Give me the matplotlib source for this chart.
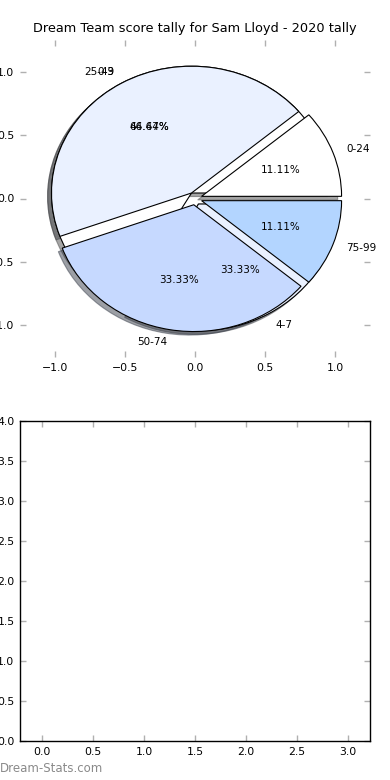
import matplotlib
matplotlib.use('Agg')
import matplotlib.pyplot as plt

title = 'Dream Team score tally for Sam Lloyd - 2020 tally'

# score buckets
score_labels = ['0-24', '25-49', '50-74', '75-99']
score_counts = [1, 4, 3, 1]

# second tally drawn on the same axes
tally_labels = ['0-3', '4-7']
tally_counts = [2, 1]

colors = ['#ffffff', '#eaf1ff', '#c6d9ff', '#b3d5ff']
tick_grey = '#b0b0b0'

fig = plt.figure(figsize=(3.9, 7.8), dpi=100, facecolor='white')
ax = fig.add_axes([20/390., 1-357/780., 350/390., 317/780.])
ax2 = fig.add_axes([20/390., 1-741/780., 350/390., 320/780.])

ax.pie(tally_counts, labels=tally_labels, colors=colors[:2], autopct='%.2f%%',
       explode=[0.05]*len(tally_counts), shadow=True,
       wedgeprops={'edgecolor': 'black', 'linewidth': 0.8},
       textprops={'fontsize': 7.5})
ax.pie(score_counts, labels=score_labels, colors=colors, autopct='%.2f%%',
       explode=[0.05]*len(score_counts), shadow=True,
       wedgeprops={'edgecolor': 'black', 'linewidth': 0.8},
       textprops={'fontsize': 7.5})

ax.set_aspect('auto')
ax.set_frame_on(False)
ax.set_xlim(-1.25, 1.25)
ax.set_ylim(-1.25, 1.25)
ax.set_xticks([-1.0, -0.5, 0.0, 0.5, 1.0])
ax.set_yticks([-1.0, -0.5, 0.0, 0.5, 1.0])
ax.set_title(title, fontsize=9.3)

ax2.set_xlim(-0.215, 3.215)
ax2.set_ylim(0, 4)
ax2.set_xticks([0.0, 0.5, 1.0, 1.5, 2.0, 2.5, 3.0])
ax2.set_yticks([0.0, 0.5, 1.0, 1.5, 2.0, 2.5, 3.0, 3.5, 4.0])
for s in ax2.spines.values():
    s.set_linewidth(1.0)
    s.set_color('black')

for a in (ax, ax2):
    a.tick_params(direction='in', length=4, width=1, color=tick_grey,
                  top=True, right=True, labelsize=7.8, pad=4)

fig.text(0.0, 0.006, 'Dream-Stats.com', color='#8a8a8a', fontsize=8.5,
         ha='left', va='bottom')

plt.savefig('out.png', dpi=100, facecolor='white')
